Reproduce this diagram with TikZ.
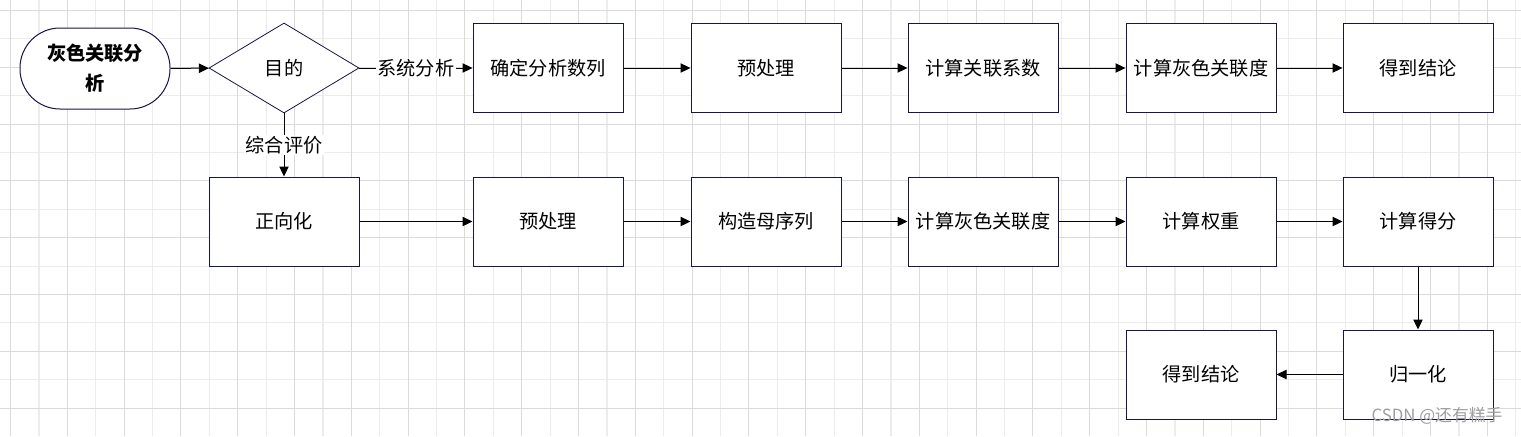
\documentclass[tikz,border=0pt]{standalone}
\usepackage{fontspec}
\setmainfont{Noto Sans CJK SC}
\usetikzlibrary{shapes.geometric,arrows.meta}
\definecolor{boxline}{RGB}{22,22,72}
\definecolor{gridmajor}{RGB}{218,218,218}
\definecolor{gridminor}{RGB}{236,236,236}
\tikzset{
        % flow chart boxes
        procbox/.style={draw=boxline, line width=0.75pt, fill=white, inner sep=0pt,
            minimum width=112.5pt, minimum height=66.75pt, font=\fontsize{14.4}{17}\selectfont},
        startbox/.style={draw=boxline, line width=0.75pt, fill=white, rounded corners=30pt,
            minimum width=112.5pt, minimum height=60.75pt, align=center,
            font=\fontsize{14.4}{22.5}\selectfont\bfseries},
        choicebox/.style={diamond, draw=boxline, line width=0.6pt, fill=white, inner sep=0pt,
            minimum width=112.5pt, minimum height=67.5pt, font=\fontsize{14.4}{17}\selectfont},
        flow/.style={line width=0.75pt, -{Triangle[length=7.5pt,width=7pt]}},
        flowlabel/.style={fill=white, inner sep=1pt, font=\fontsize{14.4}{17}\selectfont}
    }
\begin{document}
\begin{tikzpicture}[x=0.75pt,y=-0.75pt]
\useasboundingbox (0,0) rectangle (1521,436);
\fill[white] (0,0) rectangle (1521,436);

%Grid background
\foreach \k in {0,...,26} {
    \draw[gridminor, line width=0.8pt] ({39+56.8*\k},0) -- ({39+56.8*\k},436);
}
\foreach \k in {0,...,6} {
    \draw[gridminor, line width=0.8pt] (0,{38.9+56.8*\k}) -- (1521,{38.9+56.8*\k});
}
\foreach \k in {0,...,26} {
    \draw[gridmajor, line width=0.8pt] ({10.5+56.8*\k},0) -- ({10.5+56.8*\k},436);
}
\foreach \k in {0,...,7} {
    \draw[gridmajor, line width=0.8pt] (0,{10.5+56.8*\k}) -- (1521,{10.5+56.8*\k});
}

% Start node
\node[startbox] (start) at (95,68.5) {灰色关联分\\析};
% Decision node
\node[choicebox] (aim) at (284,68) {目的};

% Row 1: system analysis
\node[procbox] (seq) at (548,68) {确定分析数列};
\node[procbox] (pre1) at (766,68) {预处理};
\node[procbox] (coef) at (983,68) {计算关联系数};
\node[procbox] (deg1) at (1201,68) {计算灰色关联度};
\node[procbox] (end1) at (1418,68) {得到结论};

% Row 2: comprehensive evaluation
\node[procbox] (pos) at (284,221.5) {正向化};
\node[procbox] (pre2) at (548,221.5) {预处理};
\node[procbox] (ref) at (766,221.5) {构造母序列};
\node[procbox] (deg2) at (983,221.5) {计算灰色关联度};
\node[procbox] (wt) at (1201,221.5) {计算权重};
\node[procbox] (score) at (1418,221.5) {计算得分};

% Row 3
\node[procbox] (norm) at (1418,374.5) {归一化};
\node[procbox] (end2) at (1201,374.5) {得到结论};

% Connectors
\draw[flow] (start) -- (aim);
\draw[flow] (aim.east) -- node[flowlabel] {系统分析} (seq);
\draw[flow] (aim.south) -- node[flowlabel] {综合评价} (pos);
\draw[flow] (seq) -- (pre1);
\draw[flow] (pre1) -- (coef);
\draw[flow] (coef) -- (deg1);
\draw[flow] (deg1) -- (end1);
\draw[flow] (pos) -- (pre2);
\draw[flow] (pre2) -- (ref);
\draw[flow] (ref) -- (deg2);
\draw[flow] (deg2) -- (wt);
\draw[flow] (wt) -- (score);
\draw[flow] (score) -- (norm);
\draw[flow] (norm) -- (end2);

% Text Node
\node[text=black!38, font=\fontsize{12.6}{14}\selectfont] (mark) at (1437,416) {CSDN @还有糕手};

\end{tikzpicture}
\end{document}
